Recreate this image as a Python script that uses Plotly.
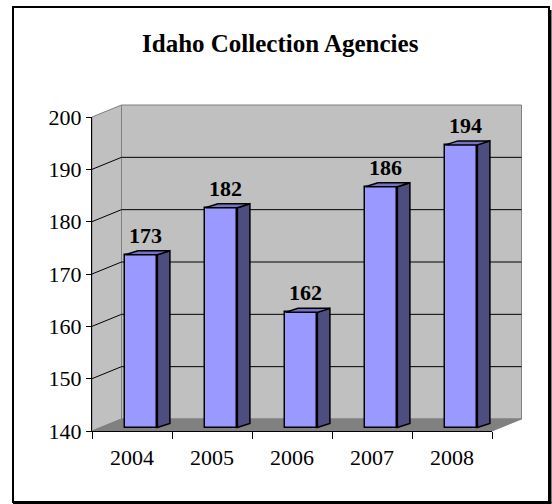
import plotly.graph_objects as go

# ---- data -------------------------------------------------------------
years = ["2004", "2005", "2006", "2007", "2008"]
agencies = [173, 182, 162, 186, 194]
y_ticks = [140, 150, 160, 170, 180, 190, 200]
chart_title = "Idaho Collection Agencies"

# ---- geometry ---------------------------------------------------------
W, H = 552, 504
X_LEFT, X_RIGHT = 92, 492          # front plane, pixels
Y_BOTTOM, Y_TOP = 431, 117
Y_MIN, Y_MAX = y_ticks[0], y_ticks[-1]

n = len(years)
px_x = (X_RIGHT - X_LEFT) / n
px_y = (Y_BOTTOM - Y_TOP) / (Y_MAX - Y_MIN)

x_range = [-0.5 - X_LEFT / px_x, -0.5 + (W - X_LEFT) / px_x]
y_range = [Y_MIN - (H - Y_BOTTOM) / px_y, Y_MIN + Y_BOTTOM / px_y]

# depth of the 3-D box and placement of the columns inside it
DX, DY = 29.5 / px_x, 12 / px_y
FX, FY = 9.4 / px_x, 3.5 / px_y
BX, BY = 12.5 / px_x, 4.0 / px_y
BAR_W = 32 / px_x

FONT = "Liberation Serif, Times New Roman, serif"
WALL = "#C0C0C0"
FLOOR = "#808080"
EDGE = "#808080"
FRONT = "#9999FF"
SIDE = "#4D4D80"
TOP = "#7373C0"

x0, x1 = -0.5, n - 0.5


def path(points):
    return "M " + " L ".join(f"{px},{py}" for px, py in points) + " Z"


shapes = []
# left wall, back wall, floor
shapes.append(dict(type="path", xref="x", yref="y", layer="below",
                   path=path([(x0, Y_MIN), (x0, Y_MAX), (x0 + DX, Y_MAX + DY), (x0 + DX, Y_MIN + DY)]),
                   fillcolor=WALL, line=dict(color=EDGE, width=1)))
shapes.append(dict(type="path", xref="x", yref="y", layer="below",
                   path=path([(x0 + DX, Y_MIN + DY), (x1 + DX, Y_MIN + DY), (x1 + DX, Y_MAX + DY), (x0 + DX, Y_MAX + DY)]),
                   fillcolor=WALL, line=dict(color=EDGE, width=1)))
shapes.append(dict(type="path", xref="x", yref="y", layer="below",
                   path=path([(x0, Y_MIN), (x1, Y_MIN), (x1 + DX, Y_MIN + DY), (x0 + DX, Y_MIN + DY)]),
                   fillcolor=FLOOR, line=dict(color=FLOOR, width=1)))
# gridlines across the left and back walls
for v in y_ticks[1:-1]:
    shapes.append(dict(type="path", xref="x", yref="y", layer="below",
                       path=f"M {x0},{v} L {x0 + DX},{v + DY} L {x1 + DX},{v + DY}",
                       line=dict(color="black", width=1)))

# side and top faces of each column
bar_x = [i + FX for i in range(n)]
base = Y_MIN + FY
for cx, v in zip(bar_x, agencies):
    top = v + FY
    xl, xr = cx - BAR_W / 2, cx + BAR_W / 2
    shapes.append(dict(type="path", xref="x", yref="y", layer="above",
                       path=path([(xr, base), (xr, top), (xr + BX, top + BY), (xr + BX, base + BY)]),
                       fillcolor=SIDE, line=dict(color="black", width=1.5)))
    shapes.append(dict(type="path", xref="x", yref="y", layer="above",
                       path=path([(xl, top), (xr, top), (xr + BX, top + BY), (xl + BX, top + BY)]),
                       fillcolor=TOP, line=dict(color="black", width=1.5)))

# outer frame with a heavier right/bottom edge
shapes.append(dict(type="rect", xref="paper", yref="paper",
                   x0=13 / W, x1=549 / W, y0=(H - 502) / H, y1=(H - 7) / H,
                   line=dict(color="black", width=2), fillcolor="rgba(0,0,0,0)"))
shapes.append(dict(type="line", xref="paper", yref="paper",
                   x0=550.5 / W, x1=550.5 / W, y0=(H - 503) / H, y1=(H - 10) / H,
                   line=dict(color="black", width=2)))
shapes.append(dict(type="line", xref="paper", yref="paper",
                   x0=13 / W, x1=551.5 / W, y0=(H - 503) / H, y1=(H - 503) / H,
                   line=dict(color="black", width=2)))

fig = go.Figure()
fig.add_trace(go.Bar(x=bar_x, y=[v - Y_MIN for v in agencies], base=base, width=BAR_W,
                     marker=dict(color=FRONT, line=dict(color="black", width=1.5)),
                     hoverinfo="skip", showlegend=False))
# carrier trace for the front axes
fig.add_trace(go.Scatter(x=[0], y=[Y_MIN], xaxis="x2", yaxis="y2", mode="markers",
                         marker=dict(opacity=0), hoverinfo="skip", showlegend=False))

annotations = [dict(text=f"<b>{chart_title}</b>", xref="paper", yref="paper",
                    x=280 / W, y=(H - 43) / H, xanchor="center", yanchor="middle",
                    showarrow=False, font=dict(family=FONT, size=25, color="black"))]
for cx, v in zip(bar_x, agencies):
    annotations.append(dict(text=f"<b>{v}</b>", xref="x", yref="y",
                            x=cx + BX / 3, y=v + FY + BY, xanchor="center", yanchor="bottom", yshift=1,
                            showarrow=False, font=dict(family=FONT, size=22, color="black")))

fig.update_layout(
    width=W, height=H, margin=dict(l=0, r=0, t=0, b=0, pad=0, autoexpand=False),
    paper_bgcolor="white", plot_bgcolor="rgba(0,0,0,0)",
    bargap=0, showlegend=False,
    shapes=shapes, annotations=annotations,
    xaxis=dict(range=x_range, visible=False, fixedrange=True),
    yaxis=dict(range=y_range, visible=False, fixedrange=True),
    xaxis2=dict(domain=[X_LEFT / W, X_RIGHT / W], range=[x0, x1], anchor="y2",
                showline=True, linecolor="black", linewidth=1, showgrid=False, zeroline=False,
                tickmode="array", tickvals=list(range(n)), ticktext=years,
                ticks="outside", ticklen=7, tickcolor="rgba(0,0,0,0)",
                minor=dict(tickmode="array", tickvals=[i - 0.5 for i in range(n + 1)],
                           ticks="outside", ticklen=7, tickwidth=1, tickcolor="black", showgrid=False),
                tickfont=dict(family=FONT, size=22, color="black"), fixedrange=True),
    yaxis2=dict(domain=[(H - Y_BOTTOM) / H, (H - Y_TOP) / H], range=[Y_MIN, Y_MAX], anchor="x2",
                showline=True, linecolor="black", linewidth=1, showgrid=False, zeroline=False,
                tickmode="array", tickvals=y_ticks,
                ticks="outside", ticklen=5, tickwidth=1, tickcolor="black",
                tickfont=dict(family=FONT, size=22, color="black"), fixedrange=True),
)

fig.write_html("out.html", config={"displayModeBar": False})
